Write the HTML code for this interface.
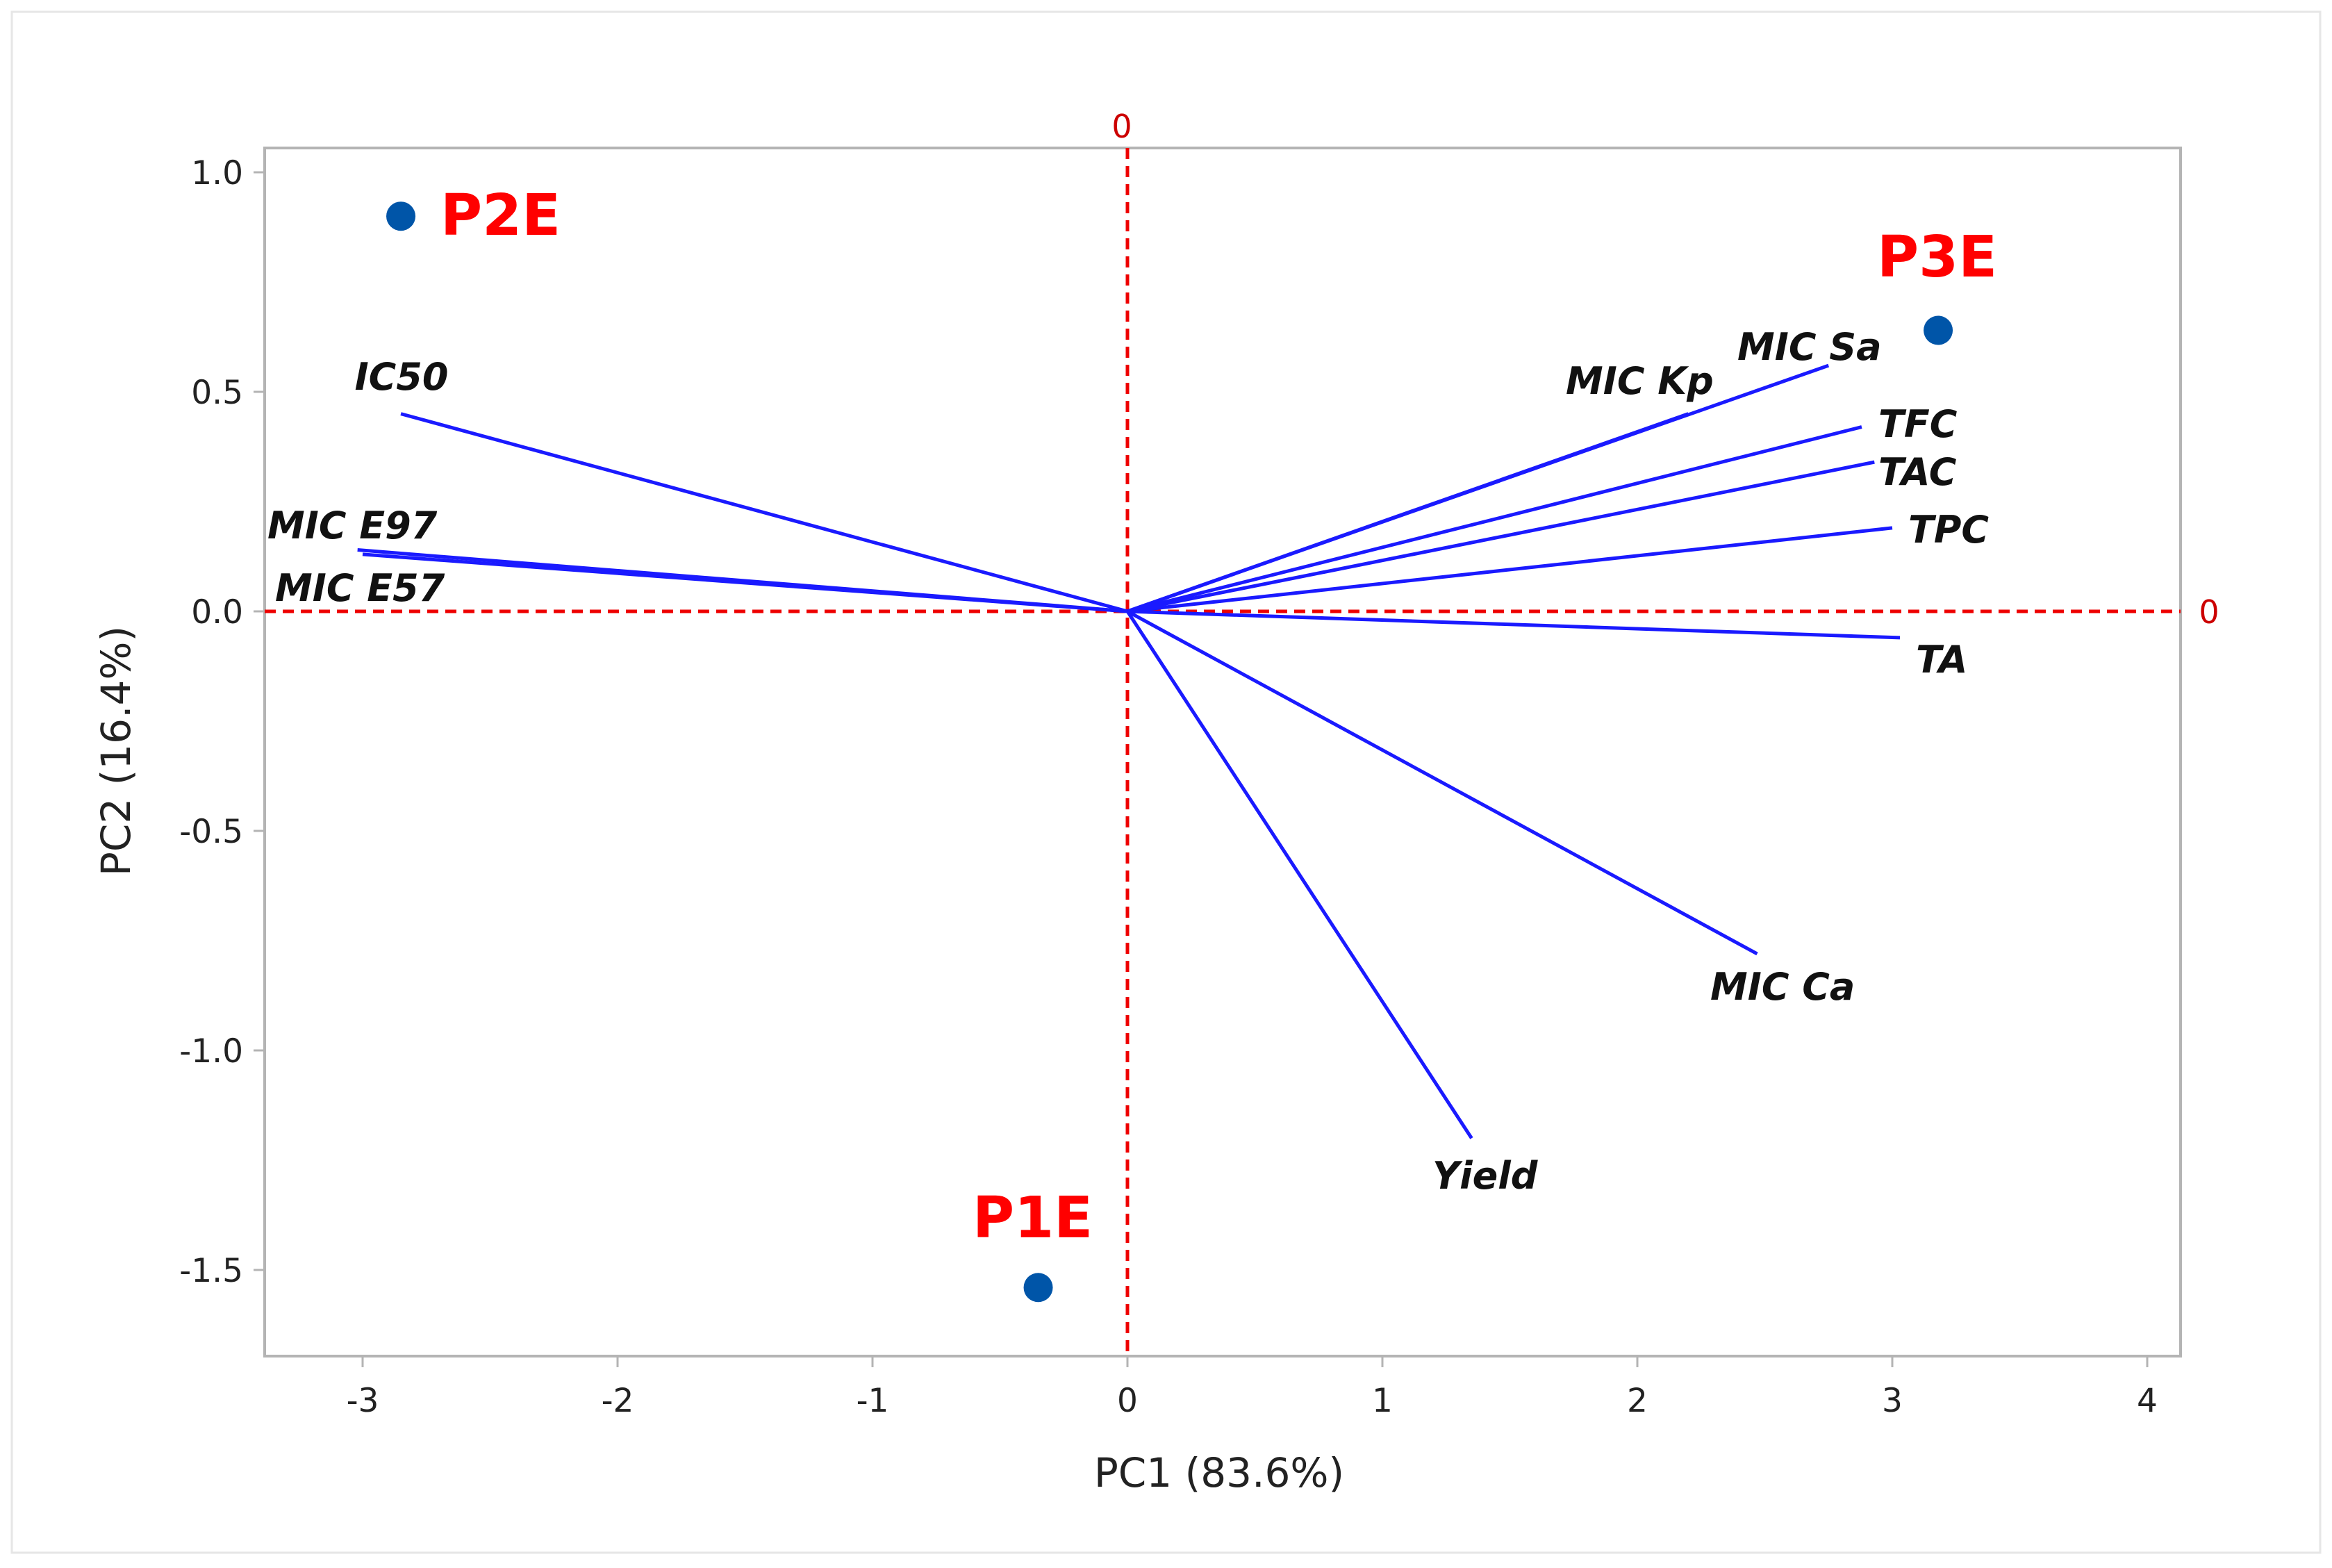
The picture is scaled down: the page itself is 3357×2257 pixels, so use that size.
<!DOCTYPE html>
<html><head><meta charset="utf-8"><style>
html,body{margin:0;padding:0;background:#fff}
svg{display:block}
text{font-family:"DejaVu Sans","Liberation Sans",sans-serif}
</style></head><body>
<svg id="chart" width="3357" height="2257" viewBox="0 0 3357 2257" xmlns="http://www.w3.org/2000/svg">
<rect x="17" y="17" width="3323" height="2218" fill="#fff" stroke="#e6e6e6" stroke-width="3"/>
<rect x="381" y="213" width="2758" height="1739" fill="#fff" stroke="#b4b4b4" stroke-width="4"/>
<g id="axes"></g>
<g id="refs"></g>
<g id="vectors"></g>
<g id="points"></g>
<text x="171" y="1081" font-size="58" fill="#222" text-anchor="middle" transform="rotate(-90 171 1081)" dominant-baseline="middle">PC2 (16.4%)</text>
<text x="1755" y="2140" font-size="58" fill="#222" text-anchor="middle">PC1 (83.6%)</text>
</svg>
<script>
const xTicks = [-3,-2,-1,0,1,2,3,4];
const yTicks = [1.0,0.5,0.0,-0.5,-1.0,-1.5];
const yTickLabels = ["1.0","0.5","0.0","-0.5","-1.0","-1.5"];
const vecNames = ["IC50","MIC E97","MIC E57","MIC Kp","MIC Sa","TFC","TAC","TPC","TA","MIC Ca","Yield"];
const vecPC1 = [-2.85,-3.02,-3.0,2.2,2.75,2.88,2.93,3.0,3.03,2.47,1.35];
const vecPC2 = [0.45,0.14,0.13,0.45,0.56,0.42,0.34,0.19,-0.06,-0.78,-1.2];
const ptNames = ["P2E","P3E","P1E"];
const ptPC1 = [-2.85,3.18,-0.35];
const ptPC2 = [0.90,0.64,-1.54];

const NS="http://www.w3.org/2000/svg";
const sx = v => 1623 + v*367;
const sy = v => 880 - v*632;
function mk(tag, attrs, parent, txt){const e=document.createElementNS(NS,tag);for(const k in attrs)e.setAttribute(k,attrs[k]);if(txt!==undefined)e.textContent=txt;parent.appendChild(e);return e;}
const axes=document.getElementById('axes');
xTicks.forEach(t=>{
  const l=mk('line',{x1:sx(t),x2:sx(t),y1:1952,y2:1968,stroke:'#b4b4b4','stroke-width':3},axes);
  
  
  const tx=mk('text',{x:sx(t),y:2032,'font-size':47,fill:'#222','text-anchor':'middle'},axes,String(t));
  
  
});
yTicks.forEach((t,i)=>{
  const l=mk('line',{x1:365,x2:381,y1:sy(t),y2:sy(t),stroke:'#b4b4b4','stroke-width':3},axes);
  
  
  const tx=mk('text',{x:350,y:sy(t)+17,'font-size':47,fill:'#222','text-anchor':'end'},axes,yTickLabels[i]);
  
  
});
const refs=document.getElementById('refs');
let r=mk('line',{x1:381,x2:3139,y1:sy(0),y2:sy(0),stroke:'#e00',"stroke-width":5,"stroke-dasharray":"16 10"},refs);


r=mk('line',{x1:sx(0),x2:sx(0),y1:213,y2:1952,stroke:'#e00',"stroke-width":5,"stroke-dasharray":"16 10"},refs);


r=mk('text',{x:sx(0)-8,y:198,'font-size':46,fill:'#c00','text-anchor':'middle'},refs,'0');


r=mk('text',{x:3180,y:sy(0)+17,'font-size':46,fill:'#c00','text-anchor':'middle'},refs,'0');



const labelPos = {"IC50":[578,561,'middle'],"MIC E97":[385,775,'start'],"MIC E57":[396,865,'start'],"MIC Kp":[2254,567,'start'],"MIC Sa":[2501,518,'start'],"TFC":[2704,629,'start'],"TAC":[2704,698,'start'],"TPC":[2747,781,'start'],"TA":[2758,968,'start'],"MIC Ca":[2462,1439,'start'],"Yield":[2062,1711,'start']};
const vg=document.getElementById('vectors');
vecNames.forEach((n,i)=>{
  const l=mk('line',{x1:sx(0),y1:sy(0),x2:sx(vecPC1[i]),y2:sy(vecPC2[i]),stroke:'#1a1aff','stroke-width':5},vg);
  
  
  const p=labelPos[n];
  const t=mk('text',{x:p[0],y:p[1],'font-size':54,'font-weight':'bold','font-style':'italic',fill:'#111','text-anchor':p[2]},vg,n);
  
  
});
const ptLabelPos = {"P2E":[634,338],"P3E":[2702,398],"P1E":[1400,1781]};
const pg=document.getElementById('points');
ptNames.forEach((n,i)=>{
  const c=mk('circle',{cx:sx(ptPC1[i]),cy:sy(ptPC2[i]),r:21,fill:'#0055a8'},pg);
  
  
  const p=ptLabelPos[n];
  const t=mk('text',{x:p[0],y:p[1],'font-size':82,'font-weight':'bold',fill:'#f00'},pg,n);
  
  
});
</script>
</body></html>
